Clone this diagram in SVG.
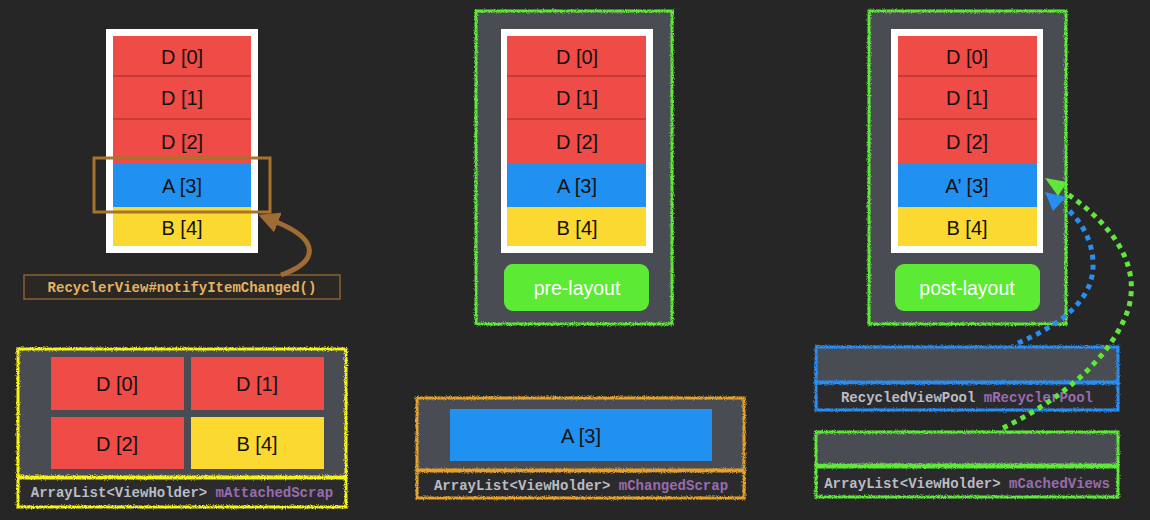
<svg xmlns="http://www.w3.org/2000/svg" width="1150" height="520" viewBox="0 0 1150 520">
<defs>
  <filter id="rough" x="-5%" y="-5%" width="110%" height="110%">
    <feTurbulence type="fractalNoise" baseFrequency="0.9" numOctaves="2" seed="3" result="n"/>
    <feDisplacementMap in="SourceGraphic" in2="n" scale="3.5" xChannelSelector="R" yChannelSelector="G"/>
  </filter>
  <marker id="brownHead" viewBox="0 0 10 10" refX="2" refY="5" markerWidth="4.2" markerHeight="4.2" orient="auto" markerUnits="strokeWidth">
    <path d="M0,0 L10,5 L0,10 Z" fill="#a06c34"/>
  </marker>
  <style>
    .cellR{fill:#ef4b47}
    .cellB{fill:#2191f1}
    .cellY{fill:#fbd931}
    .sep{stroke:#9e2e2b;stroke-width:1}
    .ct{font-family:"Liberation Sans",Arial,sans-serif;font-size:20px;fill:#111;text-anchor:middle;dominant-baseline:central}
    .frame{fill:#fff}
    .panel{fill:#4a4c53}
    .strip{fill:#2b2b2d}
    .btn{fill:#5cea35}
    .bt{font-family:"Liberation Sans",Arial,sans-serif;font-size:19.5px;fill:#fff;text-anchor:middle;dominant-baseline:central}
    .mono{font-family:"Liberation Mono","Courier New",monospace;font-size:14px;font-weight:bold;fill:#b9bcc4}
    .pur{fill:#9a6bb0}
    .gB{fill:none;stroke:#5fe83a;stroke-width:3}
    .yB{fill:none;stroke:#f4f21a;stroke-width:3}
    .oB{fill:none;stroke:#e4a12e;stroke-width:3}
    .bB{fill:none;stroke:#2a8ef0;stroke-width:3}
  </style>
</defs>
<rect width="1150" height="520" fill="#262626"/>

<!-- Left: RecyclerView list -->
<g id="list-left">
  <rect class="frame" x="106" y="29" width="152" height="224"/>
  <rect class="cellR" x="113" y="36" width="138" height="40"/>
  <rect class="cellR" x="113" y="76" width="138" height="43"/>
  <rect class="cellR" x="113" y="119" width="138" height="44"/>
  <rect class="cellB" x="113" y="163" width="138" height="44"/>
  <rect class="cellY" x="113" y="207" width="138" height="39"/>
  <line class="sep" x1="113" y1="76" x2="251" y2="76"/>
  <line class="sep" x1="113" y1="119" x2="251" y2="119"/>
  <text class="ct" x="182" y="57">D [0]</text>
  <text class="ct" x="182" y="98">D [1]</text>
  <text class="ct" x="182" y="142">D [2]</text>
  <text class="ct" x="182" y="186">A [3]</text>
  <text class="ct" x="182" y="228">B [4]</text>
</g>
<g id="highlight">
  <rect x="94" y="158" width="176" height="54" fill="none" stroke="#a8732c" stroke-width="3"/>
</g>
<g id="notify-label">
  <rect x="24" y="275" width="316" height="24" fill="#2a2724" stroke="#8a6232" stroke-width="1.5"/>
  <text class="mono" x="182" y="292" text-anchor="middle" style="fill:#e2b462">RecyclerView#notifyItemChanged()</text>
</g>

<!-- Attached scrap -->
<g id="attached-scrap">
  <rect class="panel" x="18" y="349" width="328" height="128"/>
  <rect class="strip" x="18" y="478" width="328" height="29"/>
  <g filter="url(#rough)">
    <rect class="yB" x="18" y="349" width="328" height="128"/>
    <rect class="yB" x="18" y="478" width="328" height="29"/>
  </g>
  <rect class="cellR" x="51" y="357" width="133" height="53"/>
  <rect class="cellR" x="191" y="357" width="133" height="53"/>
  <rect class="cellR" x="51" y="417" width="133" height="52"/>
  <rect class="cellY" x="191" y="417" width="133" height="52"/>
  <text class="ct" x="117" y="384">D [0]</text>
  <text class="ct" x="257" y="384">D [1]</text>
  <text class="ct" x="117" y="444">D [2]</text>
  <text class="ct" x="257" y="444">B [4]</text>
  <text class="mono" x="182" y="497" text-anchor="middle">ArrayList&lt;ViewHolder&gt; <tspan class="pur">mAttachedScrap</tspan></text>
</g>

<!-- Middle: pre-layout -->
<g id="pre-layout">
  <rect class="panel" x="476" y="11" width="196" height="313"/>
  <rect class="gB" x="476" y="11" width="196" height="313" filter="url(#rough)"/>
  <rect class="frame" x="501" y="29" width="152" height="224"/>
  <rect class="cellR" x="507" y="36" width="139" height="40"/>
  <rect class="cellR" x="507" y="76" width="139" height="43"/>
  <rect class="cellR" x="507" y="119" width="139" height="44"/>
  <rect class="cellB" x="507" y="163" width="139" height="44"/>
  <rect class="cellY" x="507" y="207" width="139" height="39"/>
  <line class="sep" x1="507" y1="76" x2="646" y2="76"/>
  <line class="sep" x1="507" y1="119" x2="646" y2="119"/>
  <text class="ct" x="577" y="57">D [0]</text>
  <text class="ct" x="577" y="98">D [1]</text>
  <text class="ct" x="577" y="142">D [2]</text>
  <text class="ct" x="577" y="186">A [3]</text>
  <text class="ct" x="577" y="228">B [4]</text>
  <rect class="btn" x="504" y="264" width="145" height="47" rx="9"/>
  <text class="bt" x="577" y="288">pre-layout</text>
</g>

<!-- Changed scrap -->
<g id="changed-scrap">
  <rect class="panel" x="417" y="398" width="327" height="72"/>
  <rect class="strip" x="417" y="471" width="327" height="27"/>
  <g filter="url(#rough)">
    <rect class="oB" x="417" y="398" width="327" height="72"/>
    <rect class="oB" x="417" y="471" width="327" height="27"/>
  </g>
  <rect class="cellB" x="450" y="409" width="262" height="52"/>
  <text class="ct" x="581" y="436">A [3]</text>
  <text class="mono" x="581" y="490" text-anchor="middle">ArrayList&lt;ViewHolder&gt; <tspan class="pur">mChangedScrap</tspan></text>
</g>

<!-- Right: post-layout -->
<g id="post-layout">
  <rect class="panel" x="869" y="11" width="197" height="313"/>
  <rect class="gB" x="869" y="11" width="197" height="313" filter="url(#rough)"/>
  <rect class="frame" x="891" y="29" width="152" height="224"/>
  <rect class="cellR" x="898" y="36" width="139" height="40"/>
  <rect class="cellR" x="898" y="76" width="139" height="43"/>
  <rect class="cellR" x="898" y="119" width="139" height="44"/>
  <rect class="cellB" x="898" y="163" width="139" height="44"/>
  <rect class="cellY" x="898" y="207" width="139" height="39"/>
  <line class="sep" x1="898" y1="76" x2="1037" y2="76"/>
  <line class="sep" x1="898" y1="119" x2="1037" y2="119"/>
  <text class="ct" x="967" y="57">D [0]</text>
  <text class="ct" x="967" y="98">D [1]</text>
  <text class="ct" x="967" y="142">D [2]</text>
  <text class="ct" x="967" y="186">A’ [3]</text>
  <text class="ct" x="967" y="228">B [4]</text>
  <rect class="btn" x="895" y="264" width="145" height="47" rx="9"/>
  <text class="bt" x="967" y="288">post-layout</text>
</g>

<!-- Recycler pool -->
<g id="recycler-pool">
  <rect class="panel" x="816" y="347" width="302" height="35"/>
  <rect class="strip" x="816" y="383" width="302" height="27"/>
  <g filter="url(#rough)">
    <rect class="bB" x="816" y="347" width="302" height="35"/>
    <rect class="bB" x="816" y="383" width="302" height="27"/>
  </g>
  <text class="mono" x="967" y="402" text-anchor="middle">RecycledViewPool <tspan class="pur">mRecyclerPool</tspan></text>
</g>

<!-- Cached views -->
<g id="cached-views">
  <rect class="panel" x="816" y="432" width="302" height="33"/>
  <rect class="strip" x="816" y="467" width="302" height="30"/>
  <g filter="url(#rough)">
    <rect class="gB" x="816" y="432" width="302" height="33"/>
    <rect class="gB" x="816" y="467" width="302" height="30"/>
  </g>
  <text class="mono" x="967" y="488" text-anchor="middle">ArrayList&lt;ViewHolder&gt; <tspan class="pur">mCachedViews</tspan></text>
</g>

<!-- Connectors -->
<g id="connectors">
  <path d="M281,275 C318,262 322,240 274,221" fill="none" stroke="#a06c34" stroke-width="5" marker-end="url(#brownHead)"/>
  <path d="M1018,343 C1060,325 1095,300 1093,262 C1092,238 1080,220 1066,208" fill="none" stroke="#2a8ef0" stroke-width="5" stroke-dasharray="5 5"/>
  <polygon points="1045,192 1066,197 1053,211" fill="#2a8ef0"/>
  <path d="M1003,428 C1060,400 1110,360 1128,310 C1140,270 1120,230 1066,193" fill="none" stroke="#5fe83a" stroke-width="5" stroke-dasharray="5 5"/>
  <polygon points="1045,178 1067,182 1058,196" fill="#5fe83a"/>
</g>
</svg>
